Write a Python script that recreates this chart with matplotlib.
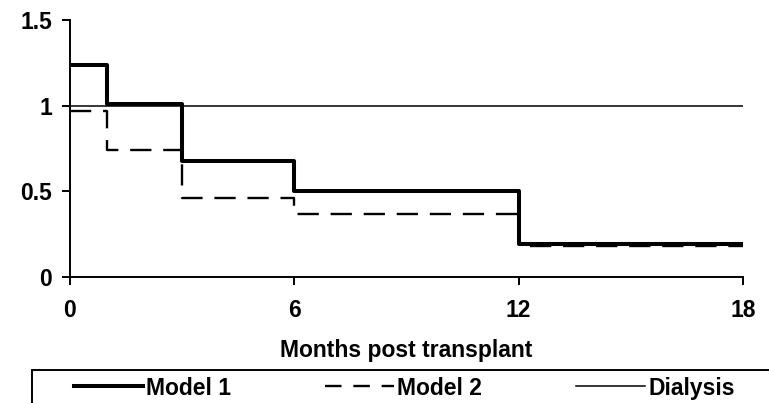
import matplotlib.pyplot as plt
from matplotlib.lines import Line2D
from matplotlib.patches import Rectangle

# interval edges (months) and step values
months = [0, 1, 3, 6, 12, 18]
model_1 = [1.24, 1.01, 0.68, 0.50, 0.19, 0.19]
model_2 = [0.97, 0.74, 0.46, 0.365, 0.18, 0.18]
dialysis = [1.0, 1.0, 1.0, 1.0, 1.0, 1.0]

x_ticks = [0, 6, 12, 18]
y_ticks = [0, 0.5, 1, 1.5]
y_tick_labels = ['0', '0.5', '1', '1.5']

FS = 16.5
DASH = (0, (9, 5))

plt.rcParams['font.family'] = ['Liberation Sans', 'DejaVu Sans']
plt.rcParams['font.weight'] = 'bold'

fig = plt.figure(figsize=(7.69, 4.03), dpi=100)
ax = fig.add_axes([0.091, 0.3127, 0.875, 0.6373])

ax.step(months, dialysis, where='post', color='black', lw=1.1, zorder=2)
ax.step(months, model_2, where='post', color='black', lw=1.7, ls=DASH, zorder=3)
ax.step(months, model_1, where='post', color='black', lw=2.9, zorder=4)

ax.set_xlim(0, 18)
ax.set_ylim(0, 1.5)
ax.set_xticks(x_ticks)
ax.set_yticks(y_ticks)
ax.set_yticklabels(y_tick_labels)
ax.tick_params(axis='both', labelsize=FS, width=1.4, length=6, direction='out', color='black')
ax.tick_params(axis='x', pad=10)
ax.tick_params(axis='y', pad=7)
for lab in ax.get_xticklabels() + ax.get_yticklabels():
    lab.set_fontweight('bold')
for side in ['top', 'right']:
    ax.spines[side].set_visible(False)
for side in ['left', 'bottom']:
    ax.spines[side].set_linewidth(1.4)
ax.set_xlabel('Months post transplant', fontsize=FS, fontweight='bold')
ax.xaxis.set_label_coords(0.5, -0.24)

# legend box (runs off the bottom and right edge like the reference)
fig.patches.append(Rectangle((0.0416, -0.1), 1.0, 0.1819, transform=fig.transFigure,
                             fill=False, edgecolor='black', lw=1.4, clip_on=False))

handles = [
    Line2D([], [], color='black', lw=2.9),
    Line2D([], [], color='black', lw=1.7, ls=(0, (7, 5))),
    Line2D([], [], color='black', lw=1.1),
]
fig.legend(handles, ['Model 1', 'Model 2', 'Dialysis'], ncol=3,
           loc='center left', bbox_to_anchor=(74 / 769, 0.0372),
           frameon=False, handlelength=3.0, handletextpad=0.15,
           columnspacing=4.1, borderpad=0, borderaxespad=0,
           prop={'weight': 'bold', 'size': FS})

fig.savefig('out.png', dpi=100)
